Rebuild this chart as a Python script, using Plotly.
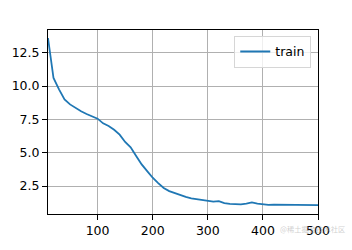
import plotly.graph_objects as go

epochs = [10, 20, 30, 40, 50, 60, 70, 80, 90, 100,
          110, 120, 130, 140, 150, 160, 170, 180, 190, 200,
          210, 220, 230, 240, 250, 260, 270, 280, 290, 300,
          310, 320, 330, 340, 350, 360, 370, 380, 390, 400,
          410, 420, 430, 440, 450, 460, 470, 480, 490, 500]
train_loss = [13.6, 10.6, 9.75, 9.0, 8.62, 8.33, 8.1, 7.9, 7.72, 7.55,
              7.2, 7.0, 6.72, 6.35, 5.8, 5.4, 4.75, 4.12, 3.62, 3.12,
              2.72, 2.35, 2.12, 1.97, 1.82, 1.68, 1.58, 1.52, 1.48, 1.38,
              1.33, 1.37, 1.22, 1.16, 1.15, 1.12, 1.17, 1.27, 1.18, 1.14,
              1.08, 1.10, 1.09, 1.08, 1.07, 1.07, 1.08, 1.08, 1.07, 1.07]
x_ticks = [100, 200, 300, 400, 500]
y_ticks = [2.5, 5.0, 7.5, 10.0, 12.5]
y_tick_labels = ["2.5", "5.0", "7.5", "10.0", "12.5"]

font = dict(family="DejaVu Sans", size=12.5, color="black")

fig = go.Figure()
fig.add_trace(go.Scatter(x=epochs, y=train_loss, mode="lines", name="train",
                         line=dict(color="#1f77b4", width=1.8)))

axis_common = dict(showline=True, mirror=True, linecolor="black", linewidth=1,
                   ticks="outside", ticklen=5, tickcolor="black", tickwidth=1,
                   showgrid=True, gridcolor="#b0b0b0", gridwidth=1,
                   zeroline=False, tickfont=font)

fig.update_layout(
    width=352, height=250,
    margin=dict(l=44, r=34, t=30, b=27),
    paper_bgcolor="white", plot_bgcolor="white",
    font=font,
    showlegend=True,
    legend=dict(x=0.975, y=0.968, xanchor="right", yanchor="top",
                bgcolor="rgba(255,255,255,0.8)", bordercolor="#d6d6d6",
                borderwidth=1, font=font, itemwidth=30,
                tracegroupgap=0),
    xaxis=dict(range=[10, 500], tickvals=x_ticks, **axis_common),
    yaxis=dict(range=[0.4, 14.2], tickvals=y_ticks, ticktext=y_tick_labels,
               **axis_common),
)

# faint watermark that sits over the bottom-right tick label in the reference
fig.add_annotation(text="@稀土掘金技术社区", xref="paper", yref="paper",
                   x=1.0, y=-0.083, xanchor="left", yanchor="middle",
                   xshift=-39, showarrow=False, borderpad=0,
                   font=dict(family="Noto Sans CJK SC", size=7.3,
                             color="rgba(160,160,160,0.5)"))

fig.write_html("out.html")
